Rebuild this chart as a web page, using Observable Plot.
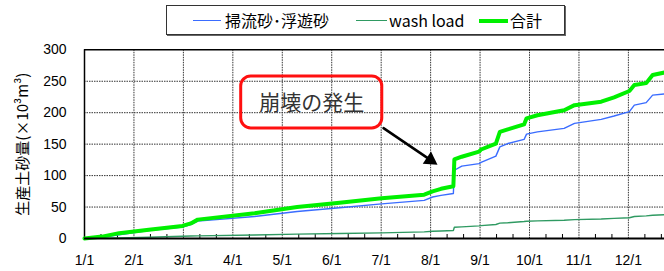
<!DOCTYPE html>
<html><head><meta charset="utf-8">
<script src="https://cdn.jsdelivr.net/npm/d3@7"></script>
<script src="https://cdn.jsdelivr.net/npm/@observablehq/plot@0.6"></script>
<style>
body{margin:0;background:#fff;width:664px;height:271px;overflow:hidden;}
#legend{position:relative;height:40px;width:664px;}
#box{position:absolute;left:166px;top:5px;width:397px;height:28px;border:1px solid #333;box-shadow:1px 1px 0 #666;}
.sw{position:absolute;}
.lt{position:absolute;font-family:"Noto Sans CJK JP",sans-serif;font-size:16px;line-height:20px;top:10px;color:#000;white-space:nowrap;}
#chart{display:block;}
</style>
</head><body>
<div id="legend"><div id="box"></div></div>
<div id="chart"></div>
<script>
// ---- data ----
const seriesNames = ["掃流砂･浮遊砂", "wash load", "合計"];
const seriesColors = ["#3a6cff", "#2f9a62", "#00f000"];
const monthLabels = ["1/1","2/1","3/1","4/1","5/1","6/1","7/1","8/1","9/1","10/1","11/1","12/1"];
const monthTicks = [0,1,2,3,4,5,6,7,8,9,10,11];
const yTicks = [0,50,100,150,200,250,300];
// x position in months from 1/1
const monthPos = [0,0.356,0.70,1.30,1.98,2.15,2.29,3.44,4.30,5.16,6.01,6.87,7.04,7.21,7.46,7.48,7.63,7.98,8.02,8.32,8.40,8.56,8.89,8.94,9.16,9.70,9.91,10.45,10.71,11.02,11.12,11.36,11.49,11.74];
const bedload = [0,2,6,12.8,18,22,27.6,35,43,49,55,60.6,66,68.6,71.5,108.5,115,119,121,131,145.7,151,157.5,166,169.6,175,183,189.4,194.7,201.6,212,216,228,229.8];
const washload = [0,0.5,1,2,3.5,4,4.2,5.5,7,8,9,10.5,11.5,12,12.8,18,18.5,20,20.5,22.3,24.5,25,27,27.5,28,29,30,31,32,33,35,36,37,37.8];
const total = [0,3,8.5,14,20,24,30,40,50,57,64,69.7,75,79,83,125.6,130,138,141.5,151,169.6,173.4,181.4,191,196,204,212,217.5,224.5,234.5,244,247,260,264];
// annotation
const noteText = ["崩壊の発生"];
const noteBox = [{x1: 3.169, x2: 6.022, y1: 175.0, y2: 257.7, tx: 4.597, ty: 215}];
const noteArrow = [{x1: 6.047, y1: 175.5, x2: 7.139, y2: 117.3, hx: 6.996, hy: 124.9}];
const yTitle = ["生産土砂量(×10³m³)"];

// ---- legend ----
const legend = document.getElementById("legend");
const swatches = [
  {left:193, width:28, h:1.6},
  {left:356, width:31, h:1.6},
  {left:479, width:29, h:4}
];
const textLeft = [225, 389, 510];
seriesNames.forEach((n,i)=>{
  const s = document.createElement("div");
  s.className = "sw";
  s.style.left = swatches[i].left + "px";
  s.style.width = swatches[i].width + "px";
  s.style.height = swatches[i].h + "px";
  s.style.top = (20.7 - swatches[i].h/2) + "px";
  s.style.background = seriesColors[i];
  legend.appendChild(s);
  const t = document.createElement("div");
  t.className = "lt";
  t.style.left = textLeft[i] + "px";
  t.textContent = n;
  legend.appendChild(t);
});

// ---- chart ----
const xMax = 11.73;
const minorTicks = d3.range(0, xMax, 1/3).filter(v => Math.abs(v - Math.round(v)) > 0.01);
const grid = {stroke: "#333", strokeWidth: 1, strokeDasharray: "1.5,1"};
const chart = Plot.plot({
  width: 664, height: 231,
  marginTop: 9.3, marginBottom: 33, marginLeft: 84, marginRight: 0,
  style: {fontFamily: "'Liberation Sans', Arial, sans-serif", fontSize: "14px", background: "white", color: "#000", overflow: "visible"},
  x: {domain: [0, xMax], ticks: monthTicks, tickFormat: d => monthLabels[d], tickSize: 0, tickPadding: 17, label: null},
  y: {domain: [0, 300], ticks: yTicks, tickSize: 0, tickPadding: 18, label: null},
  marks: [
    Plot.ruleX(monthTicks.filter(d => d > 0), grid),
    Plot.ruleY(yTicks.filter(d => d > 0 && d < 300), grid),
    Plot.ruleX(minorTicks, {y1: 0, y2: 0, insetTop: -4, stroke: "#000", strokeWidth: 1}),
    Plot.ruleX([0], {stroke: "#000", strokeWidth: 1.5}),
    Plot.ruleY([300], {stroke: "#000", strokeWidth: 1.5}),
    Plot.line(washload, {x: (d,i) => monthPos[i], y: d => d, stroke: seriesColors[1], strokeWidth: 1.4}),
    Plot.line(bedload, {x: (d,i) => monthPos[i], y: d => d, stroke: seriesColors[0], strokeWidth: 1.4}),
    Plot.line(total, {x: (d,i) => monthPos[i], y: d => d, stroke: seriesColors[2], strokeWidth: 4}),
    Plot.ruleY([0], {stroke: "#000", strokeWidth: 2}),
    Plot.rect(noteBox, {x1: "x1", x2: "x2", y1: "y1", y2: "y2", rx: 10, stroke: "#ff1010", strokeWidth: 3, fill: "none"}),
    Plot.text(noteText, {x: () => noteBox[0].tx, y: () => noteBox[0].ty, text: d => d, fontSize: 21, fill: "#333", fontFamily: "'Noto Sans CJK JP', sans-serif"}),
    Plot.arrow(noteArrow, {x1: "x1", y1: "y1", x2: "x2", y2: "y2", headLength: 0, insetEnd: 10, stroke: "#000", strokeWidth: 2.5}),
    Plot.dot(noteArrow, {x: "hx", y: "hy", symbol: "triangle", r: 5.5, fill: "#000", stroke: "none", rotate: 124}),
    Plot.text(yTitle, {frameAnchor: "left", dx: -61, rotate: -90, textAnchor: "middle", text: d => d, fontSize: 15, fill: "#000", fontFamily: "'Noto Sans CJK JP', sans-serif"})
  ]
});
document.getElementById("chart").appendChild(chart);
</script>
</body></html>
